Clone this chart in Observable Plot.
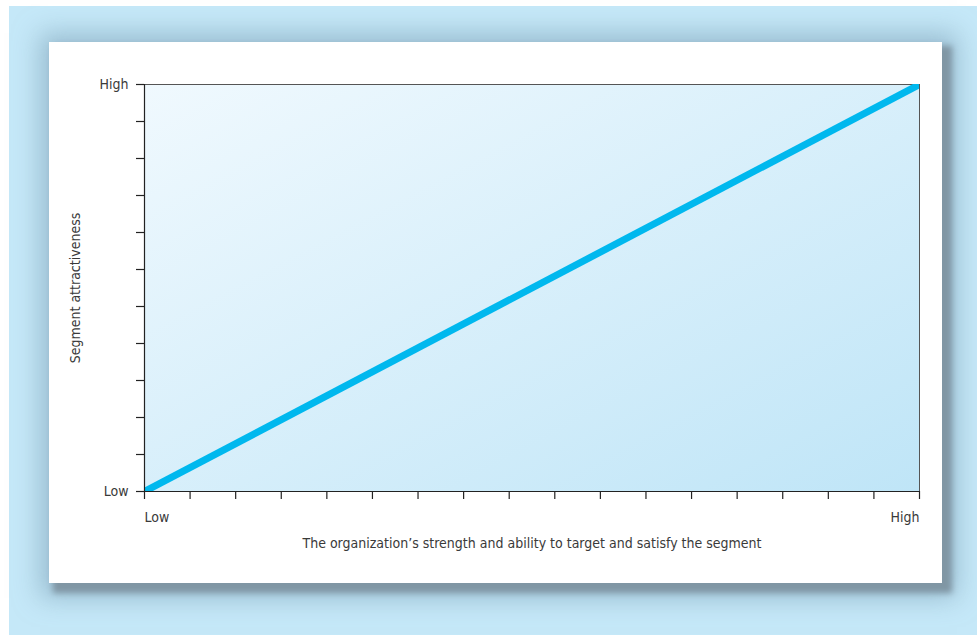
<!DOCTYPE html>
<html>
<head>
<meta charset="utf-8">
<script src="https://cdn.jsdelivr.net/npm/d3@7"></script>
<script src="https://cdn.jsdelivr.net/npm/@observablehq/plot@0.6"></script>
<style>
  html, body { margin: 0; padding: 0; background: #ffffff; width: 977px; height: 635px; overflow: hidden; }
  #bg { position: absolute; left: 9px; top: 6px; width: 968px; height: 629px; background: #c5e8f8; }
  #card { position: absolute; left: 49px; top: 42px; width: 893px; height: 541px; background: #ffffff;
          box-shadow: 7px 7px 6px 3px rgba(128,150,164,1), 3px 3px 24px 12px rgba(125,162,184,0.6); }
  #card svg { display: block; }
</style>
</head>
<body>
<div id="bg"></div>
<div id="card"></div>
<script>
// Data
const lineX = [0, 17];          // organization's strength (Low -> High)
const lineY = [0, 11];          // segment attractiveness (Low -> High)
const xTickValues = [0, 1, 2, 3, 4, 5, 6, 7, 8, 9, 10, 11, 12, 13, 14, 15, 16, 17];
const yTickValues = [0, 1, 2, 3, 4, 5, 6, 7, 8, 9, 10, 11];
const xTickLabels = ["Low", "High"];
const xLabelPos = [0, 17];
const yTickLabels = ["Low", "High"];
const yLabelPos = [0, 11];
const xTitle = "The organization\u2019s strength and ability to target and satisfy the segment";
const yTitle = "Segment attractiveness";

const lineData = lineX.map((x, i) => ({x, y: lineY[i]}));
const FONT = "'Liberation Sans Narrow', 'DejaVu Sans Condensed', 'Liberation Sans', sans-serif";
const TXT = "#3a3a3a";

const chart = Plot.plot({
  width: 893,
  height: 541,
  marginLeft: 95,
  marginTop: 42,
  marginRight: 23,
  marginBottom: 92,
  style: {fontFamily: FONT, fontSize: "14px", color: TXT, background: "transparent", overflow: "visible"},
  x: {domain: [0, 17], axis: null},
  y: {domain: [0, 11], axis: null},
  marks: [
    Plot.frame({fill: "url(#bgGrad)", stroke: "#555555", strokeWidth: 1}),
    Plot.line(lineData, {x: "x", y: "y", stroke: "#00b8ee", strokeWidth: 7, strokeLinecap: "butt", clip: true}),
    Plot.axisX({ticks: xTickValues, tickSize: 8, tickFormat: () => "", stroke: "#222", strokeWidth: 1.2, label: null}),
    Plot.axisY({ticks: yTickValues, tickSize: 8, tickFormat: () => "", stroke: "#222", strokeWidth: 1.2, label: null}),
    Plot.ruleY([0], {stroke: "#222", strokeWidth: 1.2}),
    Plot.ruleX([0], {stroke: "#222", strokeWidth: 1.2}),
    Plot.text([xTickLabels[0]], {x: xLabelPos[0], y: 0, text: d => d, dy: 26, textAnchor: "start", fill: TXT, fontSize: 14}),
    Plot.text([xTickLabels[1]], {x: xLabelPos[1], y: 0, text: d => d, dy: 26, textAnchor: "end", fill: TXT, fontSize: 14}),
    Plot.text(yTickLabels, {x: 0, y: (d, i) => yLabelPos[i], text: d => d, dx: -16, textAnchor: "end", fill: TXT, fontSize: 14}),
    Plot.text([xTitle], {x: 8.5, y: 0, text: d => d, dy: 52, textAnchor: "middle", fill: TXT, fontSize: 14}),
    Plot.text([yTitle], {x: 0, y: 5.5, text: d => d, dx: -69, rotate: -90, textAnchor: "middle", fill: TXT, fontSize: 14})
  ]
});

const ns = "http://www.w3.org/2000/svg";
const defs = document.createElementNS(ns, "defs");
defs.innerHTML = '<linearGradient id="bgGrad" x1="0" y1="0" x2="1" y2="1">' +
  '<stop offset="0%" stop-color="#f0f9fe"/>' +
  '<stop offset="100%" stop-color="#bfe5f7"/>' +
  '</linearGradient>';
chart.insertBefore(defs, chart.firstChild);
document.getElementById("card").appendChild(chart);
</script>
</body>
</html>
